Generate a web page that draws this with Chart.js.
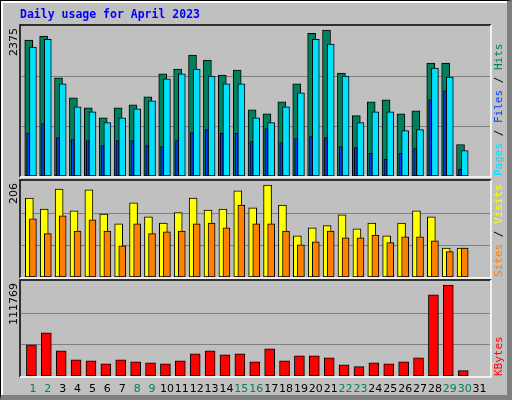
<!DOCTYPE html>
<html>
<head>
<meta charset="utf-8">
<script src="https://cdn.jsdelivr.net/npm/chart.js@4/dist/chart.umd.min.js"></script>
<style>
  body { margin: 0; background: #fff; }
  #page { position: relative; width: 512px; height: 400px; background: #c0c0c0; box-sizing: border-box;
          border: 1px solid #000; border-right: 5px solid #808080; border-bottom: 5px solid #808080; }
  #page::before { content: ''; position: absolute; left: 0; top: 0; right: 0; bottom: 0;
          border-top: 2px solid #fff; border-left: 2px solid #fff; }
  canvas { position: absolute; left: -1px; top: -1px; }
</style>
</head>
<body>
<div id="page">
  <canvas id="c1" width="512" height="400"></canvas>
  <canvas id="c2" width="512" height="400"></canvas>
  <canvas id="c3" width="512" height="400"></canvas>
</div>
<script>
const days = Array.from({length: 31}, (_, i) => i + 1);
const weekends = [1, 2, 8, 9, 15, 16, 22, 23, 29, 30];

const hits = [2209, 2274, 1595, 1272, 1110, 948, 1110, 1158, 1288, 1660, 1740, 1967, 1886, 1643, 1724, 1078,
              1013, 1207, 1498, 2322, 2375, 1676, 981, 1207, 1239, 1013, 1061, 1837, 1837, 512, 0];
const files = [2096, 2225, 1498, 1126, 1045, 868, 948, 1094, 1223, 1579, 1660, 1740, 1627, 1498, 1498, 948,
               868, 1126, 1353, 2225, 2144, 1627, 868, 1045, 1045, 738, 755, 1757, 1611, 415, 0];
const pages = [695, 851, 625, 593, 577, 496, 577, 577, 496, 480, 577, 706, 755, 695, 695, 561,
               771, 545, 609, 642, 625, 480, 464, 367, 270, 367, 448, 1239, 1385, 108, 0];
const visits = [177, 152, 197, 148, 195, 141, 119, 166, 135, 121, 144, 177, 150, 152, 193, 155,
                206, 161, 92, 110, 115, 139, 108, 121, 92, 121, 148, 135, 65, 65, 0];
const sites = [130, 97, 137, 103, 128, 103, 70, 119, 97, 101, 103, 119, 121, 110, 161, 119,
               119, 103, 72, 79, 103, 88, 88, 94, 77, 90, 90, 81, 57, 65, 0];
const kbytes = [38343, 53027, 31000, 19987, 18763, 15092, 19987, 17540, 16316, 15092, 18763, 27329, 31000, 26106,
                27329, 17540, 33448, 18763, 24882, 24882, 22435, 13869, 11421, 16316, 15092, 17540, 22435,
                99528, 111769, 6526, 0];

const monoFont = '"DejaVu Sans Mono", monospace';

function series(vals, shift) {
  return vals.map((v, i) => ({x: days[i] + shift, y: v}));
}

// lower order = drawn on top
function bar(vals, shift, color, width, order) {
  return {data: series(vals, shift), backgroundColor: color, borderColor: '#000', borderWidth: 1,
          barThickness: width, grouped: false, borderSkipped: false, order: order};
}

function vtext(ctx, x, y, parts, font) {
  ctx.save();
  ctx.translate(x, y);
  ctx.rotate(-Math.PI / 2);
  ctx.font = font;
  ctx.textBaseline = 'middle';
  let px = 0;
  parts.forEach(([t, c]) => { ctx.fillStyle = c; ctx.fillText(t, px, 0); px += ctx.measureText(t).width; });
  ctx.restore();
}

function panel(id, top, bottom, max, datasets, maxLabel, sideParts, extra) {
  const deco = {
    id: 'deco',
    beforeDatasetsDraw(chart) {
      const {ctx, chartArea: a, scales: {y}} = chart;
      ctx.save();
      ctx.strokeStyle = '#808080';
      ctx.lineWidth = 1;
      [max / 3, 2 * max / 3].forEach(v => {
        const py = Math.round(y.getPixelForValue(v)) + 0.5;
        ctx.beginPath(); ctx.moveTo(a.left, py); ctx.lineTo(a.right, py); ctx.stroke();
      });
      ctx.restore();
    },
    afterDraw(chart) {
      const {ctx, chartArea: a} = chart;
      ctx.save();
      ctx.lineWidth = 1.5;
      ctx.strokeStyle = '#000';
      ctx.beginPath(); ctx.moveTo(a.left - 1, a.bottom + 1); ctx.lineTo(a.left - 1, a.top - 1); ctx.lineTo(a.right + 1, a.top - 1); ctx.stroke();
      ctx.strokeStyle = '#fff';
      ctx.beginPath(); ctx.moveTo(a.right + 1, a.top - 1); ctx.lineTo(a.right + 1, a.bottom + 1); ctx.lineTo(a.left - 1, a.bottom + 1); ctx.stroke();
      ctx.restore();
      ctx.font = '11px "DejaVu Sans"';
      vtext(ctx, 14, a.top + 2 + ctx.measureText(maxLabel).width, [[maxLabel, '#000']], '11px "DejaVu Sans"');
      vtext(ctx, 499, a.bottom, sideParts, '11px ' + monoFont);
      if (extra) extra(chart);
    }
  };
  return new Chart(document.getElementById(id), {
    type: 'bar',
    data: {datasets},
    options: {
      responsive: false,
      animation: false,
      layout: {padding: {top: top, left: 21, right: 22, bottom: 400 - bottom}},
      plugins: {legend: {display: false}, tooltip: {enabled: false}},
      scales: {
        x: {type: 'linear', display: false, offset: false, min: 0.2, max: 31.7},
        y: {display: false, min: 0, max: max}
      }
    },
    plugins: [deco]
  });
}

panel('c1', 26, 176, 2440,
  [bar(hits, -0.28, '#00805c', 8, 3), bar(files, 0, '#00e0ff', 7, 2), bar(pages, -0.32, '#0040ff', 3, 1)],
  '2375', [['Pages', '#00e0ff'], [' / ', '#000'], ['Files', '#0040ff'], [' / ', '#000'], ['Hits', '#00805c']]);

panel('c2', 181, 277, 215,
  [bar(visits, -0.24, '#ffff00', 8, 2), bar(sites, 0, '#ff8000', 7, 1)],
  '206', [['Sites', '#ff8000'], [' / ', '#000'], ['Visits', '#ffff00']]);

panel('c3', 281, 376, 116659,
  [bar(kbytes, -0.1, '#ff0000', 10, 1)],
  '111769', [['KBytes', '#ff0000']],
  chart => {
    const {ctx, scales: {x}} = chart;
    ctx.save();
    ctx.font = '11px "DejaVu Sans"';
    ctx.textAlign = 'center';
    ctx.textBaseline = 'middle';
    days.forEach(d => {
      ctx.fillStyle = weekends.includes(d) ? '#00805c' : '#000';
      ctx.fillText(String(d), x.getPixelForValue(d), 389);
    });
    ctx.restore();
  });

// title
const t = document.getElementById('c1').getContext('2d');
t.font = 'bold 11.5px ' + monoFont;
t.fillStyle = '#0000ff';
t.textBaseline = 'middle';
t.fillText('Daily usage for April 2023', 20, 15);
</script>
</body>
</html>
